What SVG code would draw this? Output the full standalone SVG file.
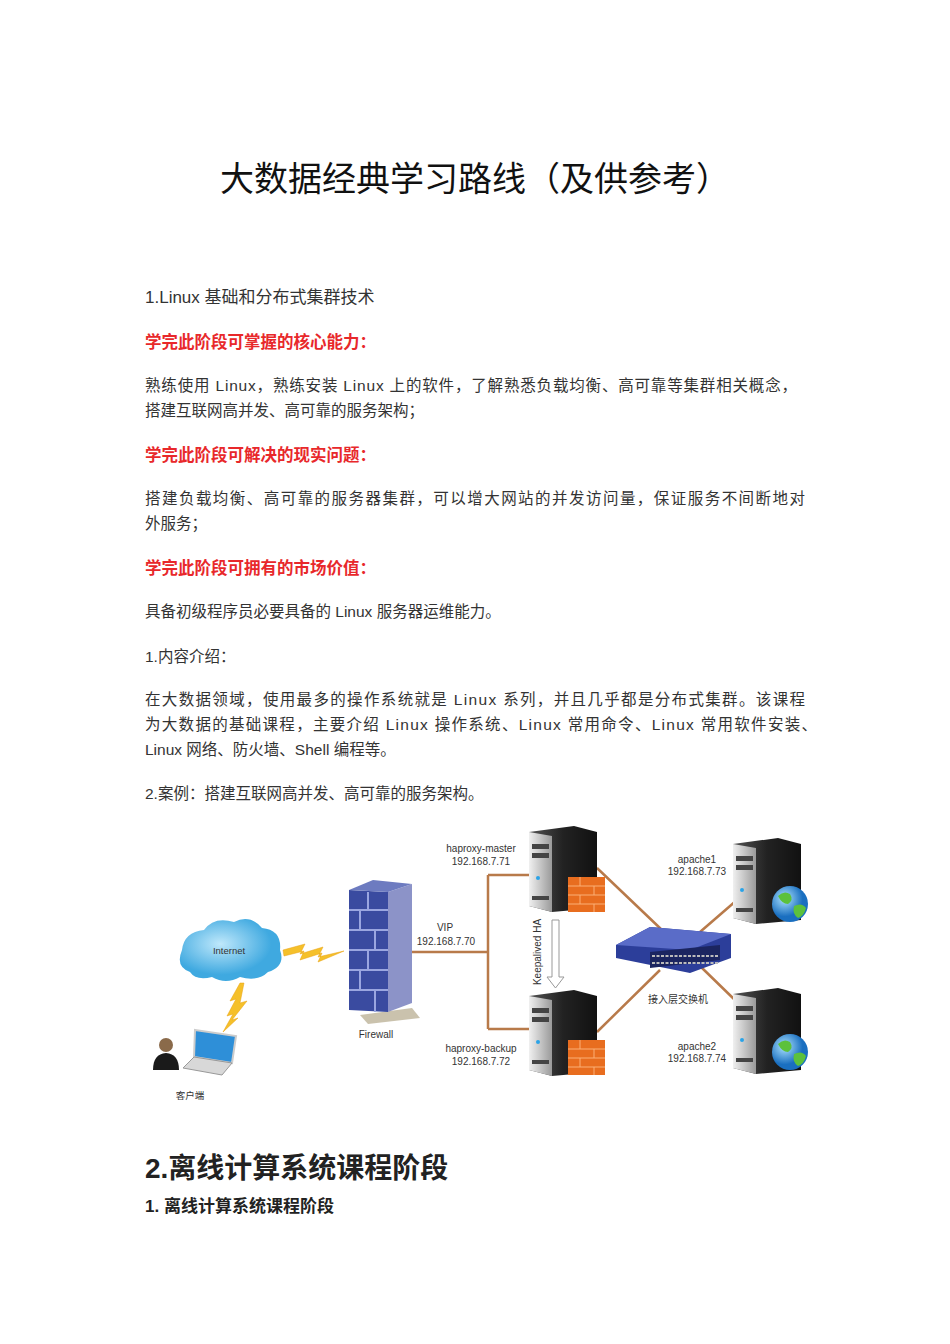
<svg xmlns="http://www.w3.org/2000/svg" width="950" height="1344" viewBox="0 0 950 1344">
<style>
.t{font-family:"Liberation Sans","Noto Sans CJK SC",sans-serif;fill:#333;font-size:15.5px}
.r{font-family:"Liberation Sans","Noto Sans CJK SC",sans-serif;fill:#e8282b;font-size:16.5px;font-weight:bold}
.s{font-family:"Liberation Sans","Noto Sans CJK SC",sans-serif;fill:#333;font-size:10px;text-anchor:middle}
.ln{stroke:#b87a4a;stroke-width:2.5;fill:none}
.bolt{fill:#f5c02a;stroke:#e8a010;stroke-width:0.5}
</style>
<defs>
<linearGradient id="srv" x1="0" x2="1"><stop offset="0" stop-color="#555"/><stop offset="0.5" stop-color="#222"/><stop offset="1" stop-color="#111"/></linearGradient>
<linearGradient id="srvf" x1="0" x2="1"><stop offset="0" stop-color="#f0f0f0"/><stop offset="1" stop-color="#9a9a9a"/></linearGradient>
<radialGradient id="cl" cx="0.4" cy="0.4"><stop offset="0" stop-color="#bfe8fb"/><stop offset="1" stop-color="#3fa9e0"/></radialGradient>
<radialGradient id="gl" cx="0.35" cy="0.35"><stop offset="0" stop-color="#aee4ff"/><stop offset="1" stop-color="#1a6fc0"/></radialGradient>
<g id="server">
<polygon points="0,6 45,0 68,6 68,82 23,86 0,80" fill="url(#srv)"/>
<polygon points="0,6 23,10 23,86 0,80" fill="url(#srvf)"/>
<rect x="3" y="18" width="17" height="5" fill="#444"/>
<rect x="3" y="27" width="17" height="5" fill="#444"/>
<circle cx="9" cy="52" r="2" fill="#2aa3e8"/>
<rect x="3" y="70" width="17" height="4" fill="#444"/>
</g>
<g id="brick">
<rect x="0" y="0" width="37" height="35" fill="#e86d1f"/>
<path d="M0 9H37M0 18H37M0 27H37M12 0V9M26 9V18M12 18V27M26 27V35" stroke="#fbb077" stroke-width="1"/>
</g>
<g id="globe">
<circle r="18" fill="url(#gl)"/>
<path d="M-12,-8 q6,-6 12,-2 q4,6 -2,10 q-6,0 -10,-8z M4,2 q8,-4 12,2 q-2,8 -8,10 q-6,-4 -4,-12z" fill="#5cc13c"/>
</g>
</defs>

<text x="475" y="191" text-anchor="middle" style="font-family:'Noto Sans CJK SC',sans-serif;font-size:34px;fill:#111">大数据经典学习路线（及供参考）</text>

<text class="t" x="145" y="303" style="font-size:17px">1.Linux 基础和分布式集群技术</text>
<text class="r" x="145" y="348">学完此阶段可掌握的核心能力：</text>
<text class="t" x="145" y="391" textLength="652">熟练使用 Linux，熟练安装 Linux 上的软件，了解熟悉负载均衡、高可靠等集群相关概念，</text>
<text class="t" x="145" y="416">搭建互联网高并发、高可靠的服务架构；</text>
<text class="r" x="145" y="461">学完此阶段可解决的现实问题：</text>
<text class="t" x="145" y="504" textLength="660">搭建负载均衡、高可靠的服务器集群，可以增大网站的并发访问量，保证服务不间断地对</text>
<text class="t" x="145" y="529">外服务；</text>
<text class="r" x="145" y="574">学完此阶段可拥有的市场价值：</text>
<text class="t" x="145" y="617">具备初级程序员必要具备的 Linux 服务器运维能力。</text>
<text class="t" x="145" y="662">1.内容介绍：</text>
<text class="t" x="145" y="705" textLength="660">在大数据领域，使用最多的操作系统就是 Linux 系列，并且几乎都是分布式集群。该课程</text>
<text class="t" x="145" y="730" textLength="672">为大数据的基础课程，主要介绍 Linux 操作系统、Linux 常用命令、Linux 常用软件安装、</text>
<text class="t" x="145" y="755">Linux 网络、防火墙、Shell 编程等。</text>
<text class="t" x="145" y="799">2.案例：搭建互联网高并发、高可靠的服务架构。</text>

<g id="connectors">
<path class="ln" d="M405 952H488M488 875V1029M488 875H530M488 1029H530"/>
<path class="ln" d="M597 868L662 930M597 1032L660 970M700 932L737 900M700 966L737 1002"/>
<polygon class="bolt" points="283,950 305,944 300,954 323,947 318,957 344,951 318,962 322,953 300,960 304,951 284,956"/>
<polygon class="bolt" points="244,983 240,1003 247,1001 232,1020 238,1018 223,1032 233,1014 227,1016 236,999 230,1001 240,983"/>
</g>

<g id="internet">
<path d="M190 972 q-15 -5 -8 -22 q2 -18 22 -20 q10 -14 30 -8 q16 -8 28 6 q20 2 18 22 q6 16 -12 22 q-10 10 -28 5 q-14 8 -28 0 q-16 4 -22 -5z" fill="url(#cl)"/>
<text class="s" x="229" y="954" style="font-size:9.5px">Internet</text>
</g>

<g id="client">
<circle cx="166" cy="1045" r="7" fill="#8a6a4a"/>
<path d="M153 1070 q0 -16 13 -17 q13 1 13 17z" fill="#1a1a1a"/>
<polygon points="195,1030 236,1036 232,1063 194,1057" fill="#2e8fd8" stroke="#ccc" stroke-width="2"/>
<polygon points="194,1057 232,1063 222,1075 183,1068" fill="#d8d8d8" stroke="#999" stroke-width="1"/>
<text class="s" x="190" y="1099" style="font-size:9.5px">客户端</text>
</g>

<g id="firewall">
<polygon points="360,1015 412,1008 420,1018 368,1024" fill="#b4a88a" opacity="0.7"/>
<polygon points="388,892 412,884 412,1003 388,1012" fill="#8c93c8"/>
<polygon points="349,890 388,892 388,1012 349,1010" fill="#3a4ba0"/>
<polygon points="349,890 373,880 412,884 388,892" fill="#6d7bc0"/>
<path d="M349 910H388M349 930H388M349 950H388M349 970H388M349 990H388M368 892V910M375 930V950M360 910V930M368 950V970M360 970V990M375 990V1012" stroke="#9aa6e0" stroke-width="2"/>
<text class="s" x="376" y="1038">Firewall</text>
</g>

<g id="vip">
<text class="s" x="445" y="931">VIP</text>
<text class="s" x="446" y="945">192.168.7.70</text>
</g>

<g id="haproxy-master">
<use href="#server" x="529" y="826"/>
<use href="#brick" x="568" y="877"/>
<text class="s" x="481" y="852">haproxy-master</text>
<text class="s" x="481" y="865">192.168.7.71</text>
</g>

<g id="keepalived">
<text class="s" x="0" y="0" transform="translate(541,952) rotate(-90)">Keepalived HA</text>
<polygon points="552,920 559,920 559,977 564,977 555.5,988 547,977 552,977" fill="#fff" stroke="#999" stroke-width="1"/>
</g>

<g id="haproxy-backup">
<use href="#server" x="529" y="990"/>
<use href="#brick" x="568" y="1040"/>
<text class="s" x="481" y="1052">haproxy-backup</text>
<text class="s" x="481" y="1065">192.168.7.72</text>
</g>

<g id="switch">
<polygon points="616,945 650,927 731,934 731,958 690,973 616,958" fill="#2c3e9a"/>
<polygon points="616,945 650,927 731,934 690,950" fill="#5a6cc8"/>
<polygon points="650,952 720,945 720,960 650,968" fill="#1b2560"/>
<path d="M652 956H718M652 963H718" stroke="#bbb" stroke-width="2" stroke-dasharray="3 1.5"/>
<text class="s" x="678" y="1003">接入层交换机</text>
</g>

<g id="apache1">
<use href="#server" x="733" y="838"/>
<use href="#globe" x="790" y="904"/>
<text class="s" x="697" y="863">apache1</text>
<text class="s" x="697" y="875">192.168.7.73</text>
</g>

<g id="apache2">
<use href="#server" x="733" y="988"/>
<use href="#globe" x="790" y="1052"/>
<text class="s" x="697" y="1050">apache2</text>
<text class="s" x="697" y="1062">192.168.7.74</text>
</g>

<text x="145" y="1178" style="font-family:'Liberation Sans','Noto Sans CJK SC',sans-serif;font-size:28px;font-weight:bold;fill:#222">2.离线计算系统课程阶段</text>
<text x="145" y="1212" style="font-family:'Liberation Sans','Noto Sans CJK SC',sans-serif;font-size:17px;font-weight:bold;fill:#222">1. 离线计算系统课程阶段</text>
</svg>
